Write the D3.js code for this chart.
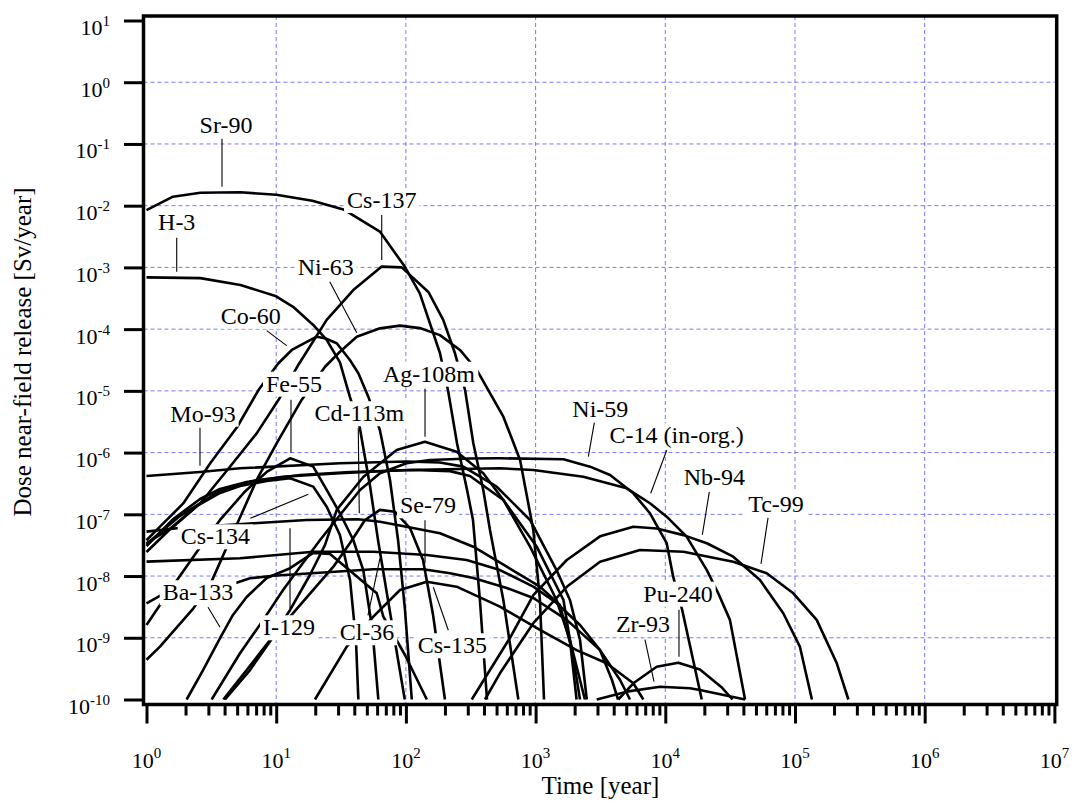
<!DOCTYPE html>
<html>
<head>
<meta charset="utf-8">
<script src="https://cdn.jsdelivr.net/npm/d3@7"></script>
<style>
  body { margin: 0; background: #fff; }
  svg { display: block; }
  text { font-family: "Liberation Serif", "Times New Roman", Times, serif; fill: #000; }
</style>
</head>
<body>
<svg id="chart" width="1074" height="805"></svg>
<script>
// Dose from near-field release, [time (year), dose (Sv/year)] per nuclide
const doseSr90 = [[1,8.5e-3],[1.6,1.4e-2],[2.6,1.62e-2],[5.3,1.65e-2],[10,1.5e-2],[19,1.2e-2],[33,8.7e-3],[63,3.8e-3],[98,1.03e-3],[128,3.8e-4],[183,4.1e-5],[211,1.03e-5],[248,1.4e-6],[296,2.5e-7],[329,8.1e-8],[372,4.1e-9],[422,1e-10]];
const doseH3 = [[1,6.9e-4],[2.6,6.7e-4],[5.3,5.2e-4],[10,3.4e-4],[13.5,2.3e-4],[19.3,1.17e-4],[24.5,6.7e-5],[31,2.9e-5],[37,8e-6],[44,2.6e-6],[53,2.8e-7],[61,3.8e-8],[75,2.8e-9],[98,1e-10]];
const doseCs137 = [[1,3.4e-8],[1.61,6.3e-8],[2.59,1.5e-7],[4.4,5.9e-7],[7.07,2.05e-6],[10.4,7.1e-6],[14.8,2.63e-5],[24.5,1.41e-4],[39.3,4.3e-4],[65.1,1.03e-3],[92.8,1.0e-3],[149,4.0e-4],[194,1.41e-4],[239,4.06e-5],[286,1.03e-5],[331,1.42e-6],[395,2.48e-7],[445,5.57e-8],[564,4.09e-9],[736,1e-10]];
const doseNi63 = [[1,4.4e-10],[1.27,7.2e-10],[2.3,3.0e-9],[3.09,7.2e-9],[4.4,3.84e-8],[7.07,3.6e-7],[10.1,1.42e-6],[15.7,7.12e-6],[23.8,2.46e-5],[31,4.3e-5],[41.8,7.55e-5],[63.1,1.03e-4],[90,1.14e-4],[128,1.04e-4],[183,8.0e-5],[261,4.6e-5],[352,2.18e-5],[564,3.82e-6],[759,7.6e-7],[960,5.57e-8],[1080,4.09e-9],[1161,1e-10]];
const doseCo60 = [[1,3.8e-8],[1.27,6.3e-8],[1.92,1.5e-7],[3.1,6.7e-7],[5.0,2.6e-6],[7.3,1.03e-5],[10.4,2.8e-5],[13.2,4.6e-5],[20.5,7.55e-5],[23.8,7.1e-5],[29.3,5.9e-5],[37,3.16e-5],[43,1.93e-5],[51.3,8.05e-6],[63,2.32e-6],[75.4,3.6e-7],[87,3.84e-8],[98.4,2.82e-9],[111,1e-10]];
const doseFe55 = [[1,1.61e-9],[1.52,5.95e-9],[2.44,2.45e-8],[3.69,8.1e-8],[5.75,2.35e-7],[8.45,4.85e-7],[12.8,8.09e-7],[19.3,5.92e-7],[24.5,2.48e-7],[31,1.04e-7],[39.3,3.84e-8],[46.9,1.25e-8],[55.2,1.34e-9],[61.3,1e-10]];
const doseCs134 = [[1,2.45e-8],[1.61,6.47e-8],[2.44,1.36e-7],[3.69,2.22e-7],[5.26,2.88e-7],[8.45,3.47e-7],[12.8,3.84e-7],[19.3,2.81e-7],[24.5,1.33e-7],[31,4.63e-8],[37.1,8.63e-9],[41.2,9.2e-10],[43,1e-10]];
const doseC14 = [[1,3.07e-8],[1.61,8.4e-8],[2.59,1.77e-7],[3.69,2.57e-7],[5.92,3.34e-7],[11.3,4.07e-7],[31,4.62e-7],[101,5.23e-7],[531,5.57e-7],[960,5.23e-7],[2330,4.07e-7],[5040,2.64e-7],[7620,1.51e-7],[10250,9.16e-8],[14600,4.35e-8],[20900,1.25e-8],[25600,5.26e-9],[31500,1.95e-9],[41200,1e-10]];
const doseOther = [[1,3.31e-8],[1.81,9.35e-8],[3.69,2.43e-7],[6.66,3.47e-7],[15.3,4.34e-7],[37.1,4.85e-7],[114,5.23e-7],[219,5.01e-7],[312,4.18e-7],[564,1.71e-7],[1020,2.99e-8],[1640,4.09e-9],[1840,9.2e-10],[2070,1e-10]];
const doseMo93 = [[1,4.18e-7],[2.59,4.85e-7],[5.26,5.57e-7],[31,6.71e-7],[101,7.18e-7],[183,6.9e-7],[277,5.92e-7],[501,2.8e-7],[906,8.1e-8],[1450,1.25e-8],[1840,4.09e-9],[2200,9.2e-10],[2480,1e-10]];
const doseNi59 = [[3.18,1e-10],[5.26,5.61e-10],[7.95,1.95e-9],[11.3,5.95e-9],[15.3,1.42e-8],[21.8,3.84e-8],[31,9.75e-8],[44.3,2.48e-7],[63.1,4.62e-7],[101,6.71e-7],[153,7.59e-7],[312,8.03e-7],[531,8.09e-7],[1640,7.8e-7],[2630,5.92e-7],[3750,4.34e-7],[5670,2.19e-7],[7620,1.04e-7],[10250,3.4e-8],[11500,9.77e-9],[13500,2.82e-9],[19100,1e-10]];
const doseAg108m = [[3.91,1e-10],[5.92,3.0e-10],[8.96,9.2e-10],[12.8,2.82e-9],[18.2,1.04e-8],[23.8,3.19e-8],[29.3,1.18e-7],[46.9,4.03e-7],[84.9,1.1e-6],[140,1.5e-6],[246,1.03e-6],[395,4.62e-7],[564,1.71e-7],[906,2.99e-8],[1450,4.09e-9],[1840,9.2e-10],[2400,1e-10]];
const doseI129 = [[1,5.24e-8],[1.71,5.94e-8],[6.66,7.16e-8],[17.2,8.1e-8],[43,8.31e-8],[63.1,7.6e-8],[101,6.31e-8],[183,4.93e-8],[331,2.99e-8],[599,1.42e-8],[1080,6.73e-9],[1540,3.4e-9],[1910,6.3e-10],[2200,1e-10]];
const doseCl36 = [[1,1.71e-8],[5.26,1.94e-8],[10.1,2.19e-8],[19.3,2.48e-8],[56.1,2.48e-8],[145,2.19e-8],[294,1.82e-8],[531,1.25e-8],[960,6.73e-9],[1450,3.66e-9],[2200,1.61e-9],[3140,6.3e-10],[3880,2.07e-10],[4320,1e-10]];
const doseSe79 = [[1,3.62e-9],[1.31,4.94e-9],[2.59,6.4e-9],[4.81,7.64e-9],[6.28,9.2e-9],[9.5,1.01e-8],[56.1,1.29e-8],[136,1.29e-8],[219,1.11e-8],[331,9.3e-9],[599,6.4e-9],[960,4.41e-9],[1740,1.95e-9],[3140,6.3e-10],[4480,2.07e-10],[5340,1e-10]];
const doseCs135 = [[19.9,1e-10],[35,7.2e-10],[56.1,2.2e-9],[90,5.95e-9],[145,8.11e-9],[246,6.73e-9],[531,3.19e-9],[1080,1.34e-9],[2070,6.3e-10],[3530,3.86e-10],[5670,1.83e-10],[6770,1e-10]];
const doseBa133 = [[2.04,1e-10],[2.73,3.0e-10],[3.69,9.9e-10],[4.64,2.34e-9],[5.92,4.58e-9],[8.45,9.3e-9],[12.8,1.34e-8],[19.3,2.37e-8],[26,2.28e-8],[35,1.35e-8],[59.6,5.26e-9],[67,2.2e-9],[98.4,5.26e-10],[145,1e-10]];
const doseCd113m = [[4.03,1e-10],[6.28,3.0e-10],[9.5,1.04e-9],[13.5,2.5e-9],[19.3,5.95e-9],[27.6,1.42e-8],[37.1,3.43e-8],[48.4,8.1e-8],[63.1,1.18e-7],[82.4,1.1e-7],[107.5,6.0e-8],[135.5,1.82e-8],[162,2.34e-9],[200,1e-10]];
const doseNb94 = [[322,1e-10],[445,3.0e-10],[635,1.0e-9],[960,4.9e-9],[1740,1.82e-8],[3140,4.4e-8],[5670,6.3e-8],[8580,5.9e-8],[13800,4.6e-8],[20900,3.4e-8],[33400,2.06e-8],[53700,8.6e-9],[81200,2.5e-9],[109000,7.2e-10],[135000,1e-10]];
const doseTc99 = [[407,1e-10],[531,2.66e-10],[960,1.72e-9],[1740,6.7e-9],[3140,1.71e-8],[6380,2.64e-8],[13800,2.48e-8],[33400,1.71e-8],[60500,1.11e-8],[97000,5.26e-9],[147000,1.95e-9],[210000,3.86e-10],[258000,1e-10]];
const dosePu240 = [[4340,1e-10],[5670,1.83e-10],[8580,3.4e-10],[12600,3.95e-10],[18500,3.05e-10],[27000,1.6e-10],[33000,1e-10]];
const doseZr93 = [[2960,1e-10],[5040,1.34e-10],[9100,1.61e-10],[15500,1.52e-10],[18500,1.43e-10],[41200,1e-10]];

const series = [
  {name: "Sr-90", values: doseSr90}, {name: "H-3", values: doseH3},
  {name: "Cs-137", values: doseCs137}, {name: "Ni-63", values: doseNi63},
  {name: "Co-60", values: doseCo60}, {name: "Fe-55", values: doseFe55},
  {name: "Cs-134", values: doseCs134}, {name: "C-14", values: doseC14},
  {name: "other", values: doseOther}, {name: "Mo-93", values: doseMo93},
  {name: "Ni-59", values: doseNi59}, {name: "Ag-108m", values: doseAg108m},
  {name: "I-129", values: doseI129}, {name: "Cl-36", values: doseCl36},
  {name: "Se-79", values: doseSe79}, {name: "Cs-135", values: doseCs135},
  {name: "Ba-133", values: doseBa133}, {name: "Cd-113m", values: doseCd113m},
  {name: "Nb-94", values: doseNb94}, {name: "Tc-99", values: doseTc99},
  {name: "Pu-240", values: dosePu240}, {name: "Zr-93", values: doseZr93}
];

// Axis ticks
const xMajorTicks = [1, 1e1, 1e2, 1e3, 1e4, 1e5, 1e6, 1e7];
const yMajorTicks = [1e-10, 1e-9, 1e-8, 1e-7, 1e-6, 1e-5, 1e-4, 1e-3, 1e-2, 1e-1, 1, 10];
const xExponents = [0, 1, 2, 3, 4, 5, 6, 7];
const yExponents = [-10, -9, -8, -7, -6, -5, -4, -3, -2, -1, 0, 1];

// Nuclide callouts: pointer tip on the curve (data units), pointer tail and
// text baseline as pixel offsets from the tip
const callouts = [
  {label: "Sr-90", tip: [3.82, 2.03e-2], tail: [0, -48], at: [4, -54]},
  {label: "H-3", tip: [1.71, 8.5e-4], tail: [0, -34], at: [0, -42]},
  {label: "Cs-137", tip: [65.1, 1.32e-3], tail: [0, -45], at: [0, -52]},
  {label: "Ni-63", tip: [41.8, 8.76e-5], tail: [-27, -51], at: [-31, -58]},
  {label: "Co-60", tip: [12.05, 5.4e-5], tail: [-20, -15], at: [-36, -22]},
  {label: "Fe-55", tip: [13.0, 9.97e-7], tail: [0, -53], at: [3, -61]},
  {label: "Mo-93", tip: [2.585, 6.14e-7], tail: [0, -38], at: [3, -44]},
  {label: "Cd-113m", tip: [43.7, 1.04e-7], tail: [-1, -85], at: [0, -92]},
  {label: "Ag-108m", tip: [140.4, 1.81e-6], tail: [0, -48], at: [4, -55]},
  {label: "Ni-59", tip: [2550, 8.59e-7], tail: [6, -34], at: [12, -40]},
  {label: "C-14 (in-org.)", tip: [7720, 2.19e-7], tail: [16, -43], at: [26, -50]},
  {label: "Nb-94", tip: [19290, 4.63e-8], tail: [7, -43], at: [12, -50]},
  {label: "Tc-99", tip: [54700, 1.57e-8], tail: [7, -46], at: [15, -52]},
  {label: "Cs-134", tip: [17.7, 2.11e-7], tail: [-58, 24], at: [-93, 50]},
  {label: "Se-79", tip: [140.4, 1.61e-8], tail: [0, -43], at: [3, -50]},
  {label: "Ba-133", tip: [3.69, 1.48e-9], tail: [-12, -20], at: [-22, -27]},
  {label: "I-129", tip: [12.78, 5.94e-8], tail: [0, 80], at: [-1, 107]},
  {label: "Cl-36", tip: [63.1, 1.94e-8], tail: [-12, 57], at: [-13, 82]},
  {label: "Cs-135", tip: [162.7, 6.58e-9], tail: [15, 43], at: [19, 66]},
  {label: "Pu-240", tip: [12750, 4.94e-10], tail: [0, -47], at: [-1, -55]},
  {label: "Zr-93", tip: [8180, 1.95e-10], tail: [-9, -42], at: [-11, -50]}
];

const svg = d3.select("#chart");
const frame = {left: 143.5, right: 1056.7, top: 16, bottom: 704.5};

const x = d3.scaleLog().domain([1, 1e7]).range([146.5, 1054.4]);
const y = d3.scaleLog().domain([1e-10, 10]).range([699.5, 20.5]);

// Grid
const grid = svg.append("g").attr("stroke", "#7878ff").attr("stroke-width", 1)
  .attr("stroke-dasharray", "4,3").attr("fill", "none");
grid.selectAll("line.gx").data(xMajorTicks.slice(1, -1)).join("line")
  .attr("x1", d => x(d)).attr("x2", d => x(d))
  .attr("y1", frame.top).attr("y2", frame.bottom);
grid.selectAll("line.gy").data(yMajorTicks.slice(1, -1)).join("line")
  .attr("y1", d => y(d)).attr("y2", d => y(d))
  .attr("x1", frame.left).attr("x2", frame.right);

// Curves
svg.append("clipPath").attr("id", "plotClip").append("rect")
  .attr("x", frame.left).attr("y", frame.top)
  .attr("width", frame.right - frame.left).attr("height", y(1e-10) + 1.5 - frame.top);

const line = d3.line().x(d => x(d[0])).y(d => y(d[1]));
svg.append("g").attr("clip-path", "url(#plotClip)")
  .selectAll("path").data(series).join("path")
  .attr("d", d => line(d.values))
  .attr("fill", "none").attr("stroke", "#000").attr("stroke-width", 2.6)
  .attr("stroke-linejoin", "round");

// Callouts
const notes = svg.append("g");
callouts.forEach(c => {
  const px = x(c.tip[0]), py = y(c.tip[1]);
  notes.append("line")
    .attr("x1", px).attr("y1", py)
    .attr("x2", px + c.tail[0]).attr("y2", py + c.tail[1])
    .attr("stroke", "#000").attr("stroke-width", 1.1);
});
callouts.forEach(c => {
  const px = x(c.tip[0]), py = y(c.tip[1]);
  const g = notes.append("g");
  const box = g.append("rect").attr("fill", "#fff");
  const t = g.append("text")
    .attr("x", px + c.at[0]).attr("y", py + c.at[1])
    .attr("text-anchor", "middle").attr("font-size", 24)
    .text(c.label);
  const b = t.node().getBBox();
  box.attr("x", b.x - 3).attr("y", b.y + 1).attr("width", b.width + 6).attr("height", b.height - 1);
});

// X axis: minor and major ticks
const xMinorTicks = [];
for (let p = 0; p < 7; p++) for (let m = 2; m <= 9; m++) xMinorTicks.push(m * Math.pow(10, p));

const xMinorAxis = svg.append("g").attr("transform", `translate(0,${frame.bottom})`)
  .call(d3.axisBottom(x).tickValues(xMinorTicks).tickSize(11).tickFormat(""));
const xMajorAxis = svg.append("g").attr("transform", `translate(0,${frame.bottom})`)
  .call(d3.axisBottom(x).tickValues(xMajorTicks).tickSize(19).tickFormat(""));
const yAxis = svg.append("g").attr("transform", `translate(${frame.left},0)`)
  .call(d3.axisLeft(y).tickValues(yMajorTicks).tickSize(19.5).tickFormat(""));
[xMinorAxis, xMajorAxis, yAxis].forEach(a => {
  a.select(".domain").remove();
  a.selectAll(".tick line").attr("stroke", "#000").attr("stroke-width", 3);
  a.selectAll(".tick text").remove();
});

// Tick labels: 10 with superscript exponent
const xLabels = svg.append("g");
xMajorTicks.forEach((v, i) => {
  const t = xLabels.append("text").attr("x", x(v)).attr("y", 768)
    .attr("text-anchor", "middle").attr("font-size", 22);
  t.append("tspan").text("10");
  t.append("tspan").attr("font-size", 15).attr("dy", -10).text(xExponents[i]);
});
const yLabels = svg.append("g");
yMajorTicks.forEach((v, i) => {
  const t = yLabels.append("text").attr("x", 110).attr("y", y(v) + 14.5)
    .attr("text-anchor", "end").attr("font-size", 22);
  t.append("tspan").text("10");
  t.append("tspan").attr("font-size", 15).attr("dy", -9).text(yExponents[i]);
});

// Frame
svg.append("rect")
  .attr("x", frame.left).attr("y", frame.top)
  .attr("width", frame.right - frame.left).attr("height", frame.bottom - frame.top)
  .attr("fill", "none").attr("stroke", "#000").attr("stroke-width", 3.5);

// Axis titles
svg.append("text").attr("x", (x(1) + x(1e7)) / 2).attr("y", 794)
  .attr("text-anchor", "middle").attr("font-size", 25).text("Time [year]");
svg.append("text").attr("transform", "translate(31,352) rotate(-90)")
  .attr("text-anchor", "middle").attr("font-size", 25)
  .text("Dose near-field release [Sv/year]");
</script>
</body>
</html>
